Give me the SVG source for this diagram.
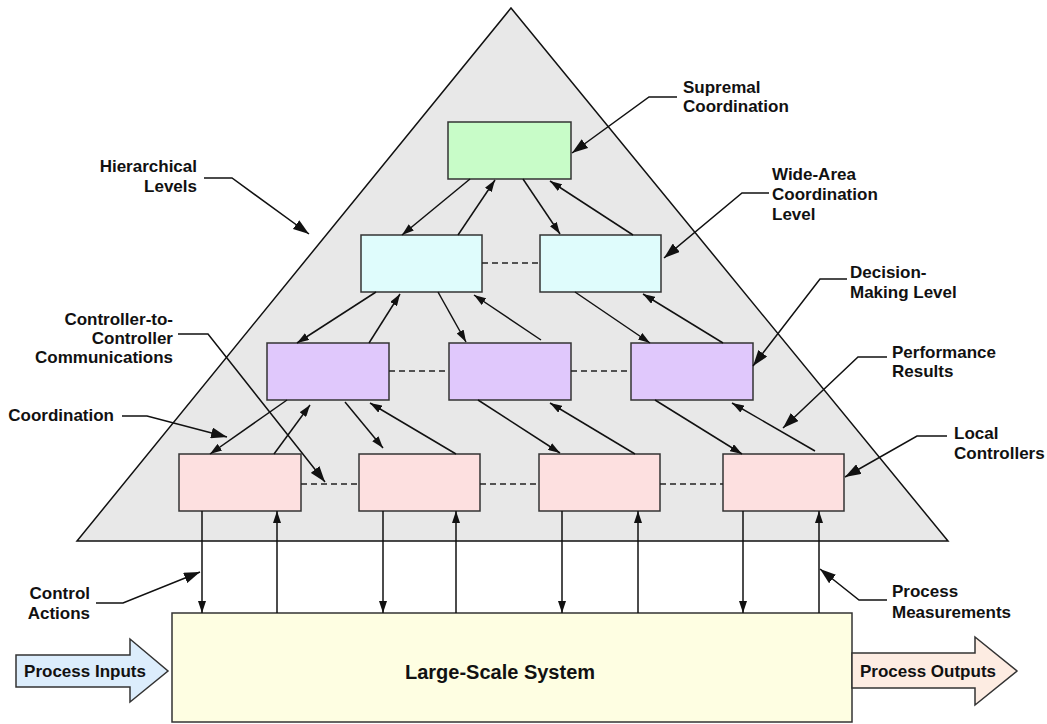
<svg xmlns="http://www.w3.org/2000/svg" width="1047" height="724" viewBox="0 0 1047 724">
<style>
.box{stroke:#333;stroke-width:1.5}
.ln{stroke:#111;stroke-width:1.5;fill:none}
.dash{stroke:#222;stroke-width:1.5;stroke-dasharray:6 4;fill:none}
.t{font-family:"Liberation Sans",Arial,sans-serif;font-weight:bold;font-size:17px;fill:#111}
.big{font-size:20px}
</style>
<defs>
<marker id="a" markerUnits="userSpaceOnUse" markerWidth="12" markerHeight="8" refX="12" refY="4" orient="auto"><path d="M0,0 L12,4 L0,8 z" fill="#111"/></marker>
<marker id="b" markerUnits="userSpaceOnUse" markerWidth="16" markerHeight="11" refX="16" refY="5.5" orient="auto"><path d="M0,0 L16,5.5 L0,11 z" fill="#111"/></marker>
</defs>
<polygon id="pyramid" points="511,8 948,541 77,541" fill="#e8e8e8" stroke="#111" stroke-width="1.5"/>
<g id="supremal"><rect class="box" x="448" y="122" width="123" height="57" fill="#c8fcc8"/></g>
<g id="wide1"><rect class="box" x="361" y="235" width="121" height="57" fill="#dffcfc"/></g>
<g id="wide2"><rect class="box" x="540" y="235" width="121" height="57" fill="#dffcfc"/></g>
<g id="dec1"><rect class="box" x="267" y="343" width="122" height="57" fill="#e0c8fc"/></g>
<g id="dec2"><rect class="box" x="449" y="343" width="122" height="57" fill="#e0c8fc"/></g>
<g id="dec3"><rect class="box" x="631" y="343" width="122" height="57" fill="#e0c8fc"/></g>
<g id="loc1"><rect class="box" x="179" y="454" width="122" height="57" fill="#fde0e0"/></g>
<g id="loc2"><rect class="box" x="359" y="454" width="121" height="57" fill="#fde0e0"/></g>
<g id="loc3"><rect class="box" x="539" y="454" width="121" height="57" fill="#fde0e0"/></g>
<g id="loc4"><rect class="box" x="723" y="454" width="121" height="57" fill="#fde0e0"/></g>
<g id="system"><rect class="box" x="172" y="613" width="680" height="109" fill="#fefee2"/><text class="t big" x="500" y="679" text-anchor="middle">Large-Scale System</text></g>
<g id="inputs"><polygon points="16,655 130,655 130,639 168,671 130,702 130,687 16,687" fill="#dcedfc" stroke="#333" stroke-width="1.5"/><text class="t" x="85" y="677" text-anchor="middle">Process Inputs</text></g>
<g id="outputs"><polygon points="852,653 975,653 975,637 1017,671 975,705 975,688 852,688" fill="#fdece2" stroke="#333" stroke-width="1.5"/><text class="t" x="928" y="677" text-anchor="middle">Process Outputs</text></g>
<g id="connectors">
<path class="dash" d="M482,263 H540 M389,371 H449 M571,371 H631 M301,484 H359 M480,484 H539 M660,484 H723"/>
<line class="ln" x1="470" y1="179" x2="402" y2="235" marker-end="url(#a)"/>
<line class="ln" x1="458" y1="235" x2="495" y2="180" marker-end="url(#a)"/>
<line class="ln" x1="523" y1="179" x2="560" y2="234" marker-end="url(#a)"/>
<line class="ln" x1="633" y1="235" x2="550" y2="181" marker-end="url(#a)"/>
<line class="ln" x1="376" y1="292" x2="297" y2="343" marker-end="url(#a)"/>
<line class="ln" x1="369" y1="343" x2="400" y2="294" marker-end="url(#a)"/>
<line class="ln" x1="438" y1="292" x2="466" y2="342" marker-end="url(#a)"/>
<line class="ln" x1="541" y1="340" x2="474" y2="295" marker-end="url(#a)"/>
<line class="ln" x1="575" y1="292" x2="650" y2="343" marker-end="url(#a)"/>
<line class="ln" x1="723" y1="343" x2="643" y2="294" marker-end="url(#a)"/>
<line class="ln" x1="287" y1="400" x2="210" y2="454" marker-end="url(#a)"/>
<line class="ln" x1="274" y1="454" x2="310" y2="405" marker-end="url(#a)"/>
<line class="ln" x1="345" y1="402" x2="383" y2="448" marker-end="url(#a)"/>
<line class="ln" x1="456" y1="454" x2="370" y2="403" marker-end="url(#a)"/>
<line class="ln" x1="478" y1="400" x2="560" y2="453" marker-end="url(#a)"/>
<line class="ln" x1="635" y1="454" x2="550" y2="403" marker-end="url(#a)"/>
<line class="ln" x1="655" y1="400" x2="742" y2="454" marker-end="url(#a)"/>
<line class="ln" x1="815" y1="451" x2="732" y2="403" marker-end="url(#a)"/>
<line class="ln" x1="202" y1="511" x2="202" y2="613" marker-end="url(#a)"/>
<line class="ln" x1="277" y1="613" x2="277" y2="511" marker-end="url(#a)"/>
<line class="ln" x1="383" y1="511" x2="383" y2="613" marker-end="url(#a)"/>
<line class="ln" x1="456" y1="613" x2="456" y2="511" marker-end="url(#a)"/>
<line class="ln" x1="562" y1="511" x2="562" y2="613" marker-end="url(#a)"/>
<line class="ln" x1="638" y1="613" x2="638" y2="511" marker-end="url(#a)"/>
<line class="ln" x1="743" y1="511" x2="743" y2="613" marker-end="url(#a)"/>
<line class="ln" x1="819" y1="613" x2="819" y2="511" marker-end="url(#a)"/>
</g>
<g id="callouts">
<polyline class="ln" points="677,97 649,97 572,153" marker-end="url(#b)"/>
<polyline class="ln" points="204,178 232,178 309,234" marker-end="url(#b)"/>
<polyline class="ln" points="769,193 742,193 664,258" marker-end="url(#b)"/>
<polyline class="ln" points="847,279 820,279 753,366" marker-end="url(#b)"/>
<polyline class="ln" points="887,357 858,357 783,428" marker-end="url(#b)"/>
<polyline class="ln" points="947,436 917,436 845,477" marker-end="url(#b)"/>
<polyline class="ln" points="178,334 208,334 325,482" marker-end="url(#b)"/>
<polyline class="ln" points="122,416 147,416 227,437" marker-end="url(#b)"/>
<polyline class="ln" points="96,603 123,603 200,572" marker-end="url(#b)"/>
<polyline class="ln" points="887,600 859,600 820,569" marker-end="url(#b)"/>
</g>
<g id="labels">
<text class="t" x="683" y="93">Supremal<tspan x="683" y="112">Coordination</tspan></text>
<text class="t" x="197" y="172" text-anchor="end">Hierarchical<tspan x="197" y="192">Levels</tspan></text>
<text class="t" x="772" y="180">Wide-Area<tspan x="772" y="200">Coordination</tspan><tspan x="772" y="220">Level</tspan></text>
<text class="t" x="850" y="278">Decision-<tspan x="850" y="298">Making Level</tspan></text>
<text class="t" x="892" y="358">Performance<tspan x="892" y="377">Results</tspan></text>
<text class="t" x="954" y="439">Local<tspan x="954" y="459">Controllers</tspan></text>
<text class="t" x="173" y="325" text-anchor="end">Controller-to-<tspan x="173" y="344">Controller</tspan><tspan x="173" y="363">Communications</tspan></text>
<text class="t" x="114" y="421" text-anchor="end">Coordination</text>
<text class="t" x="90" y="599" text-anchor="end">Control<tspan x="90" y="619">Actions</tspan></text>
<text class="t" x="892" y="597">Process<tspan x="892" y="618">Measurements</tspan></text>
</g>
</svg>
